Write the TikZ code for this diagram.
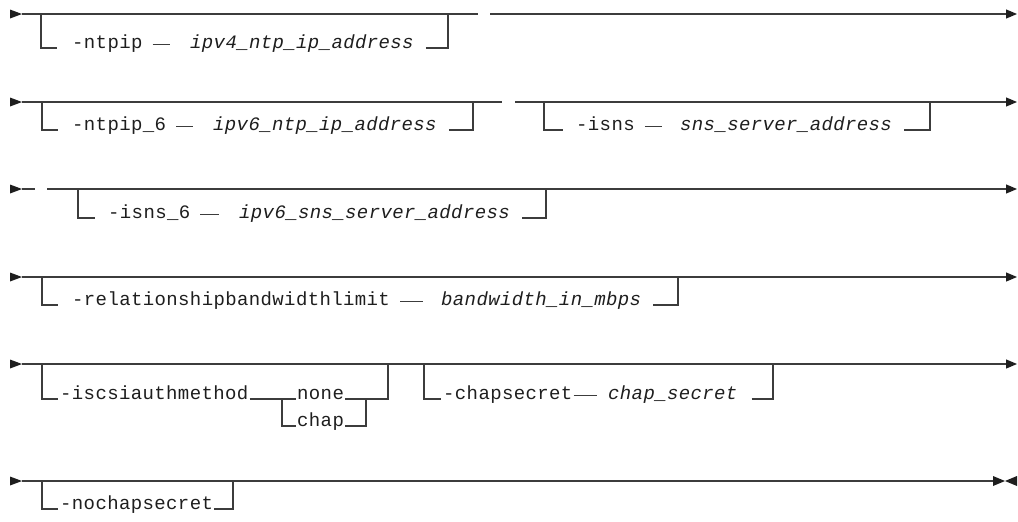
\documentclass[tikz,border=0pt]{standalone}
\usepackage{fontspec}
\usetikzlibrary{arrows.meta}
\newfontfamily\railfont[LetterSpace=2.0]{Liberation Mono}
\definecolor{ink}{HTML}{1E1E1E}
\definecolor{railgray}{HTML}{3C3C3C}

\begin{document}
\begin{tikzpicture}[x=1pt,y=-1pt,
  rail/.style={draw=railgray,line width=1.2pt},
  tip/.style={-{Triangle[length=11pt,width=9pt,color=ink]}},
  kw/.style={inner sep=0pt,anchor=base west,text=ink,font=\railfont\fontsize{19}{22}\selectfont},
  var/.style={kw,font=\railfont\itshape\fontsize{19}{22}\selectfont},
  startmark/.pic={\fill[ink] (-12,-4.5) -- (0,0) -- (-12,4.5) -- cycle;},
  endmark/.pic={\fill[ink] (-24,-5) -- (-12,0) -- (-24,5) -- cycle;
                \fill[ink] (0,-5) -- (-12,0) -- (0,5) -- cycle;}
]
\useasboundingbox (0,0) rectangle (1018,522);

% ---------- -ntpip ----------
\coordinate (r1s) at (22,14);
\coordinate (r1g) at (478,14);
\coordinate (r1h) at (490,14);
\coordinate (r1e) at (1017,14);
\coordinate (r1j1) at (41,14);
\coordinate (r1j2) at (448,14);
\pic at (r1s) {startmark};
\draw[rail] (r1s) -- (r1g);
\draw[rail,tip] (r1h) -- (r1e);
\node[kw] (r1k) at (72,48) {-ntpip};
\node[var] (r1v) at (190,48) {ipv4\_ntp\_ip\_address};
\draw[rail] (r1j1) |- ([xshift=-15pt]r1k.base west);
\draw[rail] ([xshift=10pt,yshift=3.5pt]r1k.base east) -- ([xshift=-20pt,yshift=3.5pt]r1v.base west);
\draw[rail] ([xshift=12pt]r1v.base east) -| (r1j2);

% ---------- -ntpip_6 / -isns ----------
\coordinate (r2s) at (22,102);
\coordinate (r2g) at (502,102);
\coordinate (r2h) at (515,102);
\coordinate (r2e) at (1017,102);
\coordinate (r2j1) at (42,102);
\coordinate (r2j2) at (473,102);
\coordinate (r2j3) at (544,102);
\coordinate (r2j4) at (930,102);
\pic at (r2s) {startmark};
\draw[rail] (r2s) -- (r2g);
\draw[rail,tip] (r2h) -- (r2e);
\node[kw] (r2k) at (72,130) {-ntpip\_6};
\node[var] (r2v) at (213,130) {ipv6\_ntp\_ip\_address};
\draw[rail] (r2j1) |- ([xshift=-14pt]r2k.base west);
\draw[rail] ([xshift=10pt,yshift=3.5pt]r2k.base east) -- ([xshift=-20pt,yshift=3.5pt]r2v.base west);
\draw[rail] ([xshift=12pt]r2v.base east) -| (r2j2);
\node[kw] (r2k2) at (576,130) {-isns};
\node[var] (r2v2) at (680,130) {sns\_server\_address};
\draw[rail] (r2j3) |- ([xshift=-13pt]r2k2.base west);
\draw[rail] ([xshift=10pt,yshift=3.5pt]r2k2.base east) -- ([xshift=-18pt,yshift=3.5pt]r2v2.base west);
\draw[rail] ([xshift=12pt]r2v2.base east) -| (r2j4);

% ---------- -isns_6 ----------
\coordinate (r3s) at (22,189);
\coordinate (r3g) at (35,189);
\coordinate (r3h) at (47,189);
\coordinate (r3e) at (1017,189);
\coordinate (r3j1) at (78,189);
\coordinate (r3j2) at (546,189);
\pic at (r3s) {startmark};
\draw[rail] (r3s) -- (r3g);
\draw[rail,tip] (r3h) -- (r3e);
\node[kw] (r3k) at (108,218) {-isns\_6};
\node[var] (r3v) at (239,218) {ipv6\_sns\_server\_address};
\draw[rail] (r3j1) |- ([xshift=-13pt]r3k.base west);
\draw[rail] ([xshift=10pt,yshift=3.5pt]r3k.base east) -- ([xshift=-20pt,yshift=3.5pt]r3v.base west);
\draw[rail] ([xshift=12pt]r3v.base east) -| (r3j2);

% ---------- -relationshipbandwidthlimit ----------
\coordinate (r4s) at (22,277);
\coordinate (r4e) at (1017,277);
\coordinate (r4j1) at (42,277);
\coordinate (r4j2) at (678,277);
\pic at (r4s) {startmark};
\draw[rail,tip] (r4s) -- (r4e);
\node[kw] (r4k) at (72,305) {-relationshipbandwidthlimit};
\node[var] (r4v) at (441,305) {bandwidth\_in\_mbps};
\draw[rail] (r4j1) |- ([xshift=-14pt]r4k.base west);
\draw[rail] ([xshift=10pt,yshift=3.5pt]r4k.base east) -- ([xshift=-18pt,yshift=3.5pt]r4v.base west);
\draw[rail] ([xshift=12pt]r4v.base east) -| (r4j2);

% ---------- -iscsiauthmethod / -chapsecret ----------
\coordinate (r5s) at (22,364);
\coordinate (r5e) at (1017,364);
\coordinate (r5j1) at (42,364);
\coordinate (r5j2) at (388,364);
\coordinate (r5j3) at (424,364);
\coordinate (r5j4) at (773,364);
\coordinate (r5c1) at (282,399);
\coordinate (r5c2) at (366,399);
\pic at (r5s) {startmark};
\draw[rail,tip] (r5s) -- (r5e);
\node[kw] (r5k) at (60,399) {-iscsiauthmethod};
\node[kw] (r5n) at (297,399) {none};
\node[kw] (r5c) at (297,426) {chap};
\draw[rail] (r5j1) |- ([xshift=-2pt]r5k.base west);
\draw[rail] ([xshift=1pt]r5k.base east) -- ([xshift=-1pt]r5n.base west);
\draw[rail] (r5c1) |- ([xshift=-1pt]r5c.base west);
\draw[rail] ([xshift=1pt]r5n.base east) -| (r5j2);
\draw[rail] ([xshift=1pt]r5c.base east) -| (r5c2);
\node[kw] (r5k2) at (443,399) {-chapsecret};
\node[var] (r5v2) at (608,399) {chap\_secret};
\draw[rail] (r5j3) |- ([xshift=-2pt]r5k2.base west);
\draw[rail] ([xshift=1pt,yshift=3.5pt]r5k2.base east) -- ([xshift=-11pt,yshift=3.5pt]r5v2.base west);
\draw[rail] ([xshift=14pt]r5v2.base east) -| (r5j4);

% ---------- -nochapsecret ----------
\coordinate (r6s) at (22,481);
\coordinate (r6e) at (993,481);
\coordinate (r6j1) at (42,481);
\coordinate (r6j2) at (233,481);
\pic at (r6s) {startmark};
\draw[rail] (r6s) -- (r6e);
\pic at (1017,481) {endmark};
\node[kw] (r6k) at (60,509) {-nochapsecret};
\draw[rail] (r6j1) |- ([xshift=-2pt]r6k.base west);
\draw[rail] ([xshift=1pt]r6k.base east) -| (r6j2);
\end{tikzpicture}
\end{document}
